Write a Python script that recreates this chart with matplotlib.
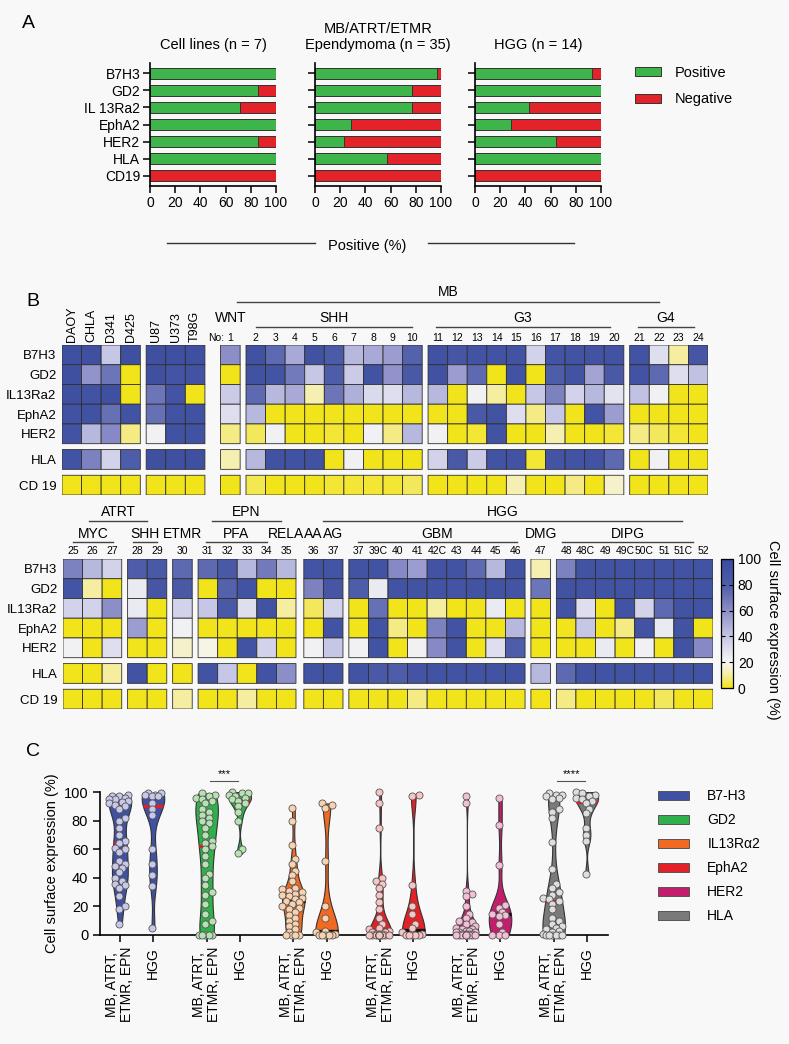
import numpy as np
import matplotlib.pyplot as plt
from matplotlib.colors import LinearSegmentedColormap
from matplotlib.patches import Patch
from matplotlib.lines import Line2D

plt.rcParams['font.family'] = ['Liberation Sans', 'DejaVu Sans']

# ---------------- panel A: percent positive ----------------
targets_a = ['B7H3', 'GD2', 'IL 13Ra2', 'EphA2', 'HER2', 'HLA', 'CD19']
pos_lines = [100, 85.7, 71.4, 100, 85.7, 100, 0]
pos_tumors = [97.1, 77.1, 77.1, 28.6, 22.9, 57.1, 0]
pos_hgg = [92.9, 100, 42.9, 28.6, 64.3, 100, 0]
titles_a = ['Cell lines (n = 7)', 'MB/ATRT/ETMR\nEpendymoma (n = 35)', 'HGG (n = 14)']

# ---------------- panel B: heatmaps ----------------
rows_b = ['B7H3', 'GD2', 'IL13Ra2', 'EphA2', 'HER2', 'HLA', 'CD 19']
cell_lines = ['DAOY', 'CHLA', 'D341', 'D425', 'U87', 'U373', 'T98G']
cl_vals = [
    [95, 95, 40, 95, 95, 95, 95],
    [95, 58, 70, 0, 95, 90, 92],
    [95, 92, 95, 0, 70, 90, 0],
    [93, 93, 72, 92, 72, 92, 93],
    [92, 45, 62, 8, 22, 93, 93],
    [92, 65, 35, 80, 95, 95, 95],
    [0, 0, 0, 0, 0, 0, 0],
]
mb_nums = ['1', '2', '3', '4', '5', '6', '7', '8', '9', '10', '11', '12', '13', '14',
           '15', '16', '17', '18', '19', '20', '21', '22', '23', '24']
mb_vals = [
    [60, 93, 75, 50, 93, 82, 45, 50, 55, 78, 93, 88, 92, 92, 92, 35, 90, 92, 92, 92, 92, 30, 10, 88],
    [0, 93, 90, 68, 40, 80, 38, 92, 58, 85, 93, 55, 75, 0, 92, 0, 80, 92, 52, 85, 92, 75, 30, 42],
    [38, 75, 45, 50, 12, 70, 48, 32, 30, 45, 45, 0, 22, 10, 0, 40, 65, 35, 45, 28, 42, 22, 0, 0],
    [30, 45, 0, 0, 0, 0, 0, 0, 0, 0, 0, 0, 85, 92, 30, 8, 40, 0, 90, 55, 0, 0, 0, 0],
    [8, 5, 22, 0, 0, 2, 0, 22, 8, 45, 22, 0, 2, 92, 0, 0, 12, 0, 0, 2, 8, 5, 2, 0],
    [12, 45, 93, 93, 93, 0, 22, 0, 0, 0, 35, 85, 38, 92, 92, 2, 90, 92, 92, 75, 0, 22, 0, 0],
    [0, 4, 0, 0, 0, 2, 2, 2, 2, 5, 0, 0, 0, 0, 12, 0, 0, 8, 0, 15, 0, 0, 0, 0],
]
low_nums = ['25', '26', '27', '28', '29', '30', '31', '32', '33', '34', '35', '36', '37',
            '37', '39C', '40', '41', '42C', '43', '44', '45', '46', '47',
            '48', '48C', '49', '49C', '50C', '51', '51C', '52']
low_vals = [
    [65, 45, 35, 80, 85, 75, 75, 85, 45, 68, 45, 90, 90, 92, 92, 62, 55, 92, 92, 75, 45, 92, 12, 65, 92, 92, 92, 92, 92, 92, 92],
    [90, 10, 0, 25, 88, 85, 0, 78, 92, 0, 0, 65, 88, 80, 25, 92, 92, 92, 90, 92, 92, 90, 70, 92, 92, 92, 92, 92, 92, 92, 92],
    [35, 35, 60, 25, 0, 35, 40, 85, 30, 92, 10, 5, 35, 0, 72, 0, 0, 10, 0, 0, 25, 0, 0, 92, 30, 0, 92, 35, 75, 92, 92],
    [0, 0, 0, 55, 0, 22, 0, 0, 0, 0, 0, 0, 92, 0, 92, 8, 0, 65, 92, 0, 0, 45, 0, 0, 40, 0, 8, 92, 25, 92, 0],
    [22, 0, 30, 0, 0, 15, 18, 0, 92, 35, 0, 22, 40, 22, 92, 0, 22, 62, 92, 0, 30, 80, 0, 0, 0, 25, 0, 22, 0, 92, 62],
    [0, 0, 10, 92, 0, 0, 92, 40, 0, 92, 60, 92, 92, 92, 85, 80, 90, 92, 92, 92, 92, 92, 45, 75, 92, 92, 92, 92, 92, 92, 92],
    [0, 0, 0, 0, 0, 10, 0, 0, 10, 0, 0, 0, 0, 0, 0, 0, 8, 0, 0, 0, 0, 0, 0, 8, 0, 0, 0, 0, 5, 0, 0],
]

# ---------------- panel C: violins ----------------
targets_c = ['B7-H3', 'GD2', 'IL13Rα2', 'EphA2', 'HER2', 'HLA']
b7h3_mb = [98, 97, 97, 96, 95, 95, 94, 93, 92, 91, 90, 88, 82, 80, 75, 70, 66, 64, 61, 60,
           58, 52, 50, 48, 47, 44, 40, 38, 36, 35, 33, 27, 20, 18, 8]
b7h3_hgg = [99, 99, 98, 98, 97, 97, 92, 88, 84, 60, 50, 42, 34, 5]
gd2_mb = [99, 98, 97, 96, 95, 94, 92, 88, 86, 84, 82, 80, 78, 75, 70, 66, 64, 62, 60, 55,
          50, 43, 40, 35, 30, 28, 22, 15, 10, 8, 0, 0, 0, 0, 0]
gd2_hgg = [100, 99, 99, 98, 97, 96, 95, 94, 92, 90, 86, 80, 60, 57]
il13_mb = [89, 80, 63, 53, 50, 45, 42, 38, 33, 32, 31, 30, 29, 28, 27, 26, 25, 24, 23, 22,
           20, 19, 18, 16, 14, 12, 10, 8, 6, 4, 2, 0, 0, 0, 0]
il13_hgg = [92, 91, 89, 52, 20, 12, 3, 2, 1, 0, 0, 0, 0, 0]
epha2_mb = [100, 92, 75, 40, 38, 36, 33, 28, 23, 18, 12, 8, 5, 4, 3, 2, 2, 1, 1, 1,
            0, 0, 0, 0, 0, 0, 0, 0, 0, 0, 0, 0, 0, 0, 0]
epha2_hgg = [98, 97, 35, 20, 15, 8, 5, 2, 1, 0, 0, 0, 0, 0]
her2_mb = [97, 92, 31, 29, 27, 20, 15, 12, 10, 9, 8, 6, 5, 4, 4, 3, 3, 2, 2, 2,
           1, 1, 1, 1, 0, 0, 0, 0, 0, 0, 0, 0, 0, 0, 0]
her2_hgg = [96, 77, 49, 21, 19, 16, 15, 14, 13, 8, 2, 0, 0, 0]
hla_mb = [99, 98, 98, 97, 96, 95, 88, 86, 82, 65, 46, 36, 33, 30, 28, 26, 25, 24, 22, 18,
          12, 10, 8, 6, 5, 4, 3, 2, 1, 0, 0, 0, 0, 0, 0]
hla_hgg = [100, 99, 98, 97, 96, 95, 94, 92, 88, 85, 75, 70, 66, 43]
groups_c = [(b7h3_mb, b7h3_hgg), (gd2_mb, gd2_hgg), (il13_mb, il13_hgg),
            (epha2_mb, epha2_hgg), (her2_mb, her2_hgg), (hla_mb, hla_hgg)]

W, H = 789, 1044
fig = plt.figure(figsize=(W / 100, H / 100), dpi=100)
fig.patch.set_facecolor('#f8f8f8')


def fax(x0, y0, x1, y1):
    ax = fig.add_axes([x0 / W, 1 - y1 / H, (x1 - x0) / W, (y1 - y0) / H])
    ax.set_facecolor('none')
    return ax


green, red = '#3db54a', '#e4222a'
edge = '#333333'

# ---------- A ----------
for k, (vals, x0) in enumerate(zip([pos_lines, pos_tumors, pos_hgg], [150, 315, 475])):
    ax = fax(x0, 63, x0 + 126, 186)
    vals = np.array(vals)
    y = np.arange(len(targets_a))
    ax.barh(y, vals, height=0.64, color=green, edgecolor=edge, linewidth=0.7)
    ax.barh(y, 100 - vals, left=vals, height=0.64, color=red, edgecolor=edge, linewidth=0.7)
    ax.set_xlim(0, 100)
    ax.set_ylim(6.6, -0.6)
    ax.set_xticks(range(0, 101, 20))
    ax.set_yticks(y)
    ax.set_yticklabels(targets_a if k == 0 else [])
    ax.tick_params(labelsize=10, length=5, width=1.1, pad=2)
    for s in ['top', 'right']:
        ax.spines[s].set_visible(False)
    for s in ['left', 'bottom']:
        ax.spines[s].set_linewidth(1.2)
    ax.set_title(titles_a[k], fontsize=10.5, pad=10, linespacing=1.15)

fig.text(367 / W, 1 - 246 / H, 'Positive (%)', ha='center', va='center', fontsize=10.5)
for xa, xb in [(167, 315), (428, 574)]:
    fig.add_artist(Line2D([xa / W, xb / W], [1 - 243 / H] * 2, color=edge, lw=1))

fig.legend(handles=[Patch(facecolor=green, edgecolor=edge, lw=0.7, label='Positive'),
                    Patch(facecolor=red, edgecolor=edge, lw=0.7, label='Negative')],
           loc='upper left', bbox_to_anchor=(635 / W, 1 - 66 / H), frameon=False,
           fontsize=10.5, handlelength=1.8, handleheight=0.55, handletextpad=0.95,
           labelspacing=0.85, borderpad=0, borderaxespad=0)

# ---------- B ----------
cmap = LinearSegmentedColormap.from_list('expr', [
    (0.0, '#f2e41b'), (0.1, '#f5eda2'), (0.2, '#f6f6f6'), (0.4, '#c6c6e6'),
    (0.6, '#8c8ec8'), (0.8, '#4e5da9'), (1.0, '#3a4c9f')])


def layout(sizes, gaps):
    edges, gap_mask, centers = [0.0], [], []
    x = 0.0
    for i, n in enumerate(sizes):
        for _ in range(n):
            centers.append(x + 0.5)
            x += 1
            edges.append(x)
            gap_mask.append(False)
        if i < len(gaps):
            x += gaps[i]
            edges.append(x)
            gap_mask.append(True)
    return np.array(edges), np.array(gap_mask), np.array(centers)


ye, yg, yc = layout([5, 1, 1], [0.3, 0.3])


def draw_heat(ax, mat, sizes, gaps):
    xe, xg, xc = layout(sizes, gaps)
    full = np.full((len(yg), len(xg)), np.nan)
    full[np.ix_(~yg, ~xg)] = np.asarray(mat, float)
    m = ax.pcolor(xe, ye, np.ma.masked_invalid(full), cmap=cmap, vmin=0, vmax=100,
                  edgecolors='#2e2e2e', linewidth=0.6)
    ax.set_xlim(xe[0], xe[-1])
    ax.set_ylim(ye[-1], ye[0])
    ax.set_yticks(yc)
    ax.set_yticklabels(rows_b, fontsize=9.5)
    ax.tick_params(length=0, pad=4, bottom=False, labelbottom=False)
    for s in ax.spines.values():
        s.set_visible(False)
    return m, xc


def group_labels(ax, xc, specs, y_line, y_text, fs=10):
    for text, i0, i1, line, sl, sr in specs:
        if line:
            xa, xb = xc[i0] - 0.5 + sl, xc[i1] + 0.5 - sr
            ax.plot([xa, xb], [y_line, y_line], color='#444', lw=1, clip_on=False)
            xm = (xa + xb) / 2
        else:
            xm = (xc[i0] + xc[i1]) / 2
        ax.text(xm, y_text, text, ha='center', va='center', fontsize=fs)


# top block
axt = fax(62, 345, 708, 495)
top_mat = np.hstack([np.array(cl_vals), np.array(mb_vals)])
_, xct = draw_heat(axt, top_mat, [4, 3, 1, 9, 10, 4], [0.3, 0.8, 0.3, 0.3, 0.3])
for i, name in enumerate(cell_lines):
    axt.text(xct[i], -0.15, name, rotation=90, ha='center', va='bottom', fontsize=9)
for i, n in enumerate(mb_nums):
    axt.text(xct[7 + i], -0.36, n, ha='center', va='center', fontsize=7.5)
axt.text(xct[7] - 0.3, -0.36, 'No:', ha='right', va='center', fontsize=7.5)
group_labels(axt, xct, [('WNT', 7, 7, False, 0, 0), ('SHH', 8, 16, True, 0.5, 0.5),
                        ('G3', 17, 26, True, 0.4, 0.7), ('G4', 27, 30, True, 0.4, 0.7)],
             -0.91, -1.37)
group_labels(axt, xct, [('MB', 7, 30, True, 0.85, 2.5)], -2.18, -2.68)

# bottom block
axb = fax(63, 559, 713, 709)
mesh, xcb = draw_heat(axb, low_vals, [3, 2, 1, 5, 2, 9, 1, 8], [0.3, 0.3, 0.3, 0.4, 0.3, 0.3, 0.3])
for i, n in enumerate(low_nums):
    axb.text(xcb[i], -0.41, n, ha='center', va='center', fontsize=7.5)
group_labels(axb, xcb, [('MYC', 0, 2, True, 0.5, 0.45), ('SHH', 3, 4, True, 0.3, 0.5),
                        ('ETMR', 5, 5, False, 0, 0), ('PFA', 6, 9, True, 0.4, 0.5),
                        ('RELA', 10, 10, False, 0, 0), ('AA', 11, 11, False, 0, 0),
                        ('AG', 12, 12, False, 0, 0), ('GBM', 13, 21, True, 0.45, 0.4),
                        ('DMG', 22, 22, False, 0, 0), ('DIPG', 23, 30, True, 0.3, 1.0)],
             -0.86, -1.27)
group_labels(axb, xcb, [('ATRT', 0, 4, True, 1.35, 1.0), ('EPN', 6, 10, True, 0.7, 0.75),
                        ('HGG', 11, 30, True, 1.0, 1.6)], -1.92, -2.38)

cax = fax(721, 559, 733, 688)
cb = fig.colorbar(mesh, cax=cax, ticks=[0, 20, 40, 60, 80, 100])
cb.outline.set_linewidth(0.9)
cax.tick_params(labelsize=10, direction='in', length=3, left=True, right=True, width=0.8)
fig.text(773 / W, 1 - 630 / H, 'Cell surface expression (%)', rotation=270,
         ha='center', va='center', fontsize=10.5)

# ---------- C ----------
axc = fax(100, 792, 608, 935)
fills = ['#3f51a3', '#2fb04a', '#f26a21', '#e42127', '#c51d6e', '#7a7a7a']
pfills = ['#c8c9ea', '#b8e2b4', '#f9d3b0', '#f8c5c5', '#f3bfd6', '#dedede']
med_cols = ['#e31e24', '#e31e24', '#111111', '#111111', '#111111', '#e31e24']
sx, sy = 33.1, 1.43  # pixels per data unit


def swarm(vals, d=6.5, cap=11.0):
    vals = np.asarray(vals, float)
    offs = np.zeros(len(vals))
    placed = []
    cands = np.arange(-cap, cap + 0.01, d * 0.5)
    cands = cands[np.argsort(np.abs(cands), kind='stable')]
    for i in np.argsort(vals, kind='stable'):
        yv = vals[i] * sy
        best, best_d = 0.0, -1
        for c in cands:
            dmin = min([np.hypot(c - px, yv - py) for px, py in placed] + [99])
            if dmin >= 0.8 * d:
                best = c
                break
            if dmin > best_d:
                best, best_d = c, dmin
        placed.append((best, yv))
        offs[i] = best / sx
    return offs


positions, tick_labels = [], []
for g, pair in enumerate(groups_c):
    for j, vals in enumerate(pair):
        p = g * 2.62 + j
        positions.append(p)
        tick_labels.append('MB, ATRT,\nETMR, EPN' if j == 0 else 'HGG')
        parts = axc.violinplot([vals], positions=[p], widths=0.68, showextrema=False,
                               bw_method=0.32)
        body = parts['bodies'][0]
        body.set_facecolor(fills[g])
        body.set_edgecolor('#333')
        body.set_linewidth(0.8)
        body.set_alpha(1)
        body.set_zorder(1)
        v = body.get_paths()[0].vertices
        rs = v[v[:, 0] > p]
        o = np.argsort(rs[:, 1])
        med = np.median(vals)
        hw = np.interp(med, rs[o, 1], rs[o, 0]) - p
        axc.plot([p - hw, p + hw], [med, med], color=med_cols[g], lw=2.4,
                 solid_capstyle='butt', zorder=2)
        axc.scatter(p + swarm(vals), vals, s=26, facecolor=pfills[g], edgecolor='#555',
                    linewidth=0.6, zorder=4, clip_on=False)

axc.set_xlim(-0.6, 14.74)
axc.set_ylim(0, 100)
axc.set_yticks(range(0, 101, 20))
axc.set_xticks(positions)
axc.set_xticklabels(tick_labels, rotation=90, fontsize=10, linespacing=1.1)
axc.tick_params(axis='y', labelsize=10.5, length=5, width=1.1)
axc.tick_params(axis='x', length=5, width=1.1)
for s in ['top', 'right']:
    axc.spines[s].set_visible(False)
for s in ['left', 'bottom']:
    axc.spines[s].set_linewidth(1.2)
axc.set_ylabel('Cell surface expression (%)', fontsize=10.5, labelpad=3)

for g, stars in [(1, '***'), (5, '****')]:
    xa, xb = g * 2.62 + 0.1, g * 2.62 + 0.95
    axc.plot([xa, xb], [108, 108], color='#555', lw=0.8, clip_on=False)
    axc.text((xa + xb) / 2, 109, stars, ha='center', va='bottom', fontsize=8)

fig.legend(handles=[Patch(facecolor=c, edgecolor='#555', lw=0.7, label=t)
                    for c, t in zip(fills, targets_c)],
           loc='upper left', bbox_to_anchor=(658 / W, 1 - 789 / H), frameon=False,
           fontsize=10, handlelength=2.2, handleheight=0.6, handletextpad=1.35,
           labelspacing=0.72, borderpad=0, borderaxespad=0)

for lab, x, y in [('A', 28, 23), ('B', 33, 302), ('C', 33, 752)]:
    fig.text(x / W, 1 - y / H, lab, ha='center', va='center', fontsize=14)

fig.savefig('out.png', dpi=100, facecolor=fig.get_facecolor())
